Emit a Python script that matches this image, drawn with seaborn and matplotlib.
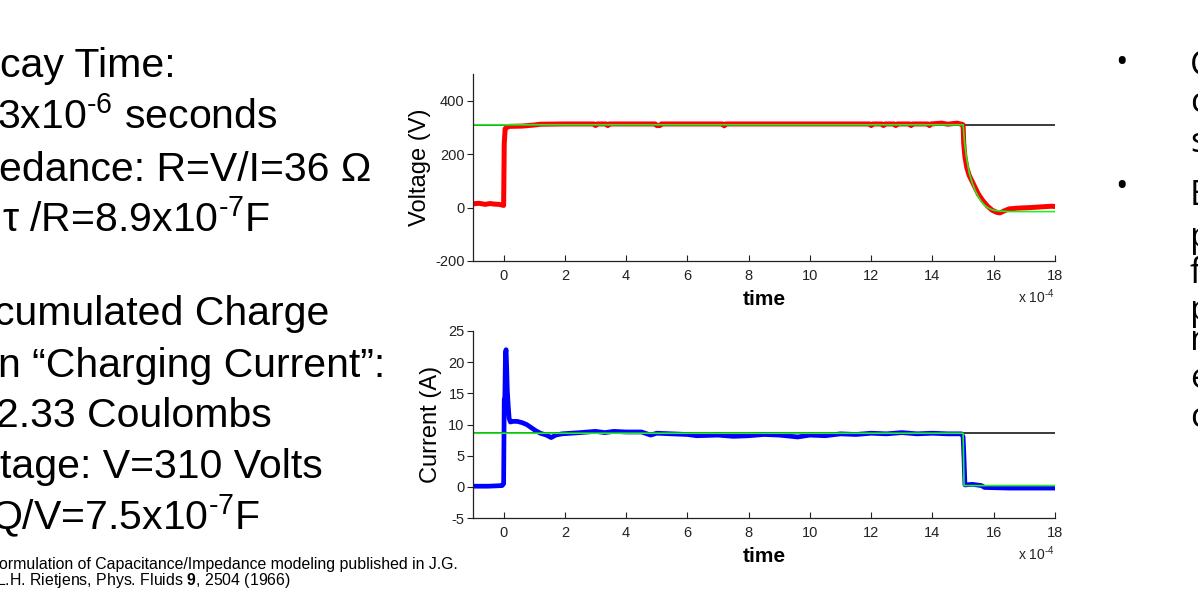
import matplotlib
matplotlib.use("Agg")
import matplotlib.pyplot as plt
import seaborn as sns
import pandas as pd

# time axis is in units of 1e-4 s
t_volt = [-1.0, -0.8, -0.6, -0.45, -0.3, -0.15, 0.0, 0.02, 0.05, 0.1, 0.2, 0.6, 1.0, 1.2,
          2.0, 2.95, 3.0, 3.05, 3.35, 3.4, 3.45, 4.95, 5.0, 5.1, 5.15, 7.15, 7.2, 7.25, 10.0,
          11.95, 12.0, 12.05, 12.35, 12.4, 12.45, 12.75, 12.8, 12.85, 13.25, 13.3, 13.35,
          13.85, 13.9, 13.95, 14.3, 14.5, 14.8, 14.95,
          15.0, 15.02, 15.06, 15.12, 15.2, 15.35, 15.5, 15.65, 15.8, 15.95, 16.1, 16.2,
          16.35, 16.5, 16.8, 17.2, 17.6, 17.9, 18.0]
volt = [14, 16, 12, 15, 13, 12, 8, 240, 295, 300, 304, 305, 309, 312,
        313, 313, 307, 313, 313, 307, 313, 313, 307, 307, 313, 313, 306, 313, 313,
        313, 307, 313, 313, 307, 313, 313, 307, 313, 313, 307, 313,
        313, 307, 313, 316, 312, 316, 312,
        310, 240, 190, 150, 120, 85, 50, 25, 5, -10, -18, -20,
        -12, -5, -2, 0, 3, 5, 4]

t_vfit = [-1.0, 15.0, 15.05, 15.1, 15.2, 15.3, 15.4, 15.5, 15.6, 15.7, 15.8, 15.9, 16.0, 16.2, 16.5, 18.0]
vfit = [310, 310, 240, 195, 130, 92, 62, 40, 22, 9, 0, -6, -10, -13, -15, -15]

t_curr = [-1.0, -0.5, -0.05, 0.0, 0.02, 0.04, 0.06, 0.08, 0.1, 0.12, 0.15, 0.18, 0.22,
          0.3, 0.45, 0.6, 0.75, 0.9, 1.05, 1.2, 1.4, 1.55, 1.7, 1.9, 2.2, 2.5,
          3.0, 3.3, 3.6, 4.0, 4.5, 4.8, 5.0, 5.5, 6.0, 6.3, 7.0, 7.5, 8.0, 8.5,
          9.0, 9.6, 10.0, 10.5, 11.0, 11.5, 12.0, 12.5, 13.0, 13.5, 14.0, 14.5, 14.95,
          15.0, 15.03, 15.06, 15.3, 15.6, 15.7, 16.5, 17.0, 18.0]
curr = [0.1, 0.1, 0.2, 0.5, 14.0, 14.5, 21.5, 22.0, 19.0, 15.5, 13.0, 11.0, 10.4,
        10.5, 10.5, 10.3, 10.0, 9.5, 9.0, 8.6, 8.3, 7.9, 8.3, 8.5, 8.6, 8.7,
        8.9, 8.7, 8.9, 8.8, 8.8, 8.3, 8.6, 8.5, 8.4, 8.2, 8.3, 8.1, 8.2, 8.4,
        8.3, 8.0, 8.3, 8.2, 8.5, 8.4, 8.6, 8.5, 8.7, 8.5, 8.6, 8.5, 8.5,
        8.0, 4.5, 0.3, 0.4, 0.2, -0.1, -0.2, -0.2, -0.2]

t_cfit = [-1.0, 15.0, 15.03, 18.0]
cfit = [8.6, 8.6, 0.2, 0.2]

t_ref = [-1.0, 18.0]
v_ref = [310, 310]
i_ref = [8.6, 8.6]

HY = "\u2010"  # short hyphen for the exponents
left_lines = ["cay Time:", "3x10$^{" + HY + "6}$ seconds", "edance: R=V/I=36 \u03a9",
              "\u03c4 /R=8.9x10$^{" + HY + "7}$F",
              "cumulated Charge", "n \u201cCharging Current\u201d:", "2.33 Coulombs",
              "tage: V=310 Volts", "Q/V=7.5x10$^{" + HY + "7}$F"]
left_x_px = [0, -3, -1, 2, -6, -2, -4, 0, -10]
left_base_px = [77, 129, 181, 232, 325, 377, 427, 478, 530]

foot_lines = ["ormulation of Capacitance/Impedance modeling published in J.G.",
              r"L.H. Rietjens, Phys. Fluids $\mathbf{9}$, 2504 (1966)"]
foot_x_px = [-1, -4]
foot_base_px = [569, 585]

right_letters = ["C", "c", "s", "B", "p", "f", "p", "r", "e", "c"]
right_base_px = [75, 112, 152, 205, 247, 283, 320, 350, 388, 427]
bullet_y_px = [63, 188]

sns.set_style("ticks")
plt.rcParams['font.family'] = ['Liberation Sans', 'DejaVu Sans']
plt.rcParams['mathtext.fontset'] = 'custom'
plt.rcParams['mathtext.rm'] = 'Liberation Sans'
plt.rcParams['mathtext.it'] = 'Liberation Sans:italic'
plt.rcParams['mathtext.bf'] = 'Liberation Sans:bold'
plt.rcParams['axes.unicode_minus'] = False

W, H = 1198, 602
fig = plt.figure(figsize=(W / 100, H / 100), dpi=100)
fig.patch.set_facecolor('white')


def box(l, t, r, b):
    return [l / W, 1 - b / H, (r - l) / W, (b - t) / H]


ax1 = fig.add_axes(box(473, 74, 1055, 261))
ax2 = fig.add_axes(box(473, 331, 1055, 518))

# voltage
sns.lineplot(x=t_ref, y=v_ref, ax=ax1, color='#3a3a3a', linewidth=1.4)
sns.lineplot(data=pd.DataFrame({'t': t_volt, 'V': volt}), x='t', y='V', ax=ax1,
             color='#ff0000', linewidth=3.6, estimator=None, sort=False)
sns.lineplot(x=t_vfit, y=vfit, ax=ax1, color='#22ee22', linewidth=1.2, estimator=None, sort=False)

# current
sns.lineplot(x=t_ref, y=i_ref, ax=ax2, color='#3a3a3a', linewidth=1.4)
sns.lineplot(data=pd.DataFrame({'t': t_curr, 'I': curr}), x='t', y='I', ax=ax2,
             color='#0000ff', linewidth=3.4, estimator=None, sort=False)
sns.lineplot(x=t_cfit, y=cfit, ax=ax2, color='#22ee22', linewidth=1.2, estimator=None, sort=False)

ax1.set_ylim(-200, 500)
ax1.set_yticks([-200, 0, 200, 400])
ax2.set_ylim(-5, 25)
ax2.set_yticks(list(range(-5, 26, 5)))

for ax, ylab, ylx in [(ax1, "Voltage (V)", -0.072), (ax2, "Current (A)", -0.054)]:
    ax.set_xlim(-1, 18)
    ax.set_xticks(list(range(0, 19, 2)))
    sns.despine(ax=ax)
    for sp in ['left', 'bottom']:
        ax.spines[sp].set_color('#222222')
        ax.spines[sp].set_linewidth(0.9)
    ax.tick_params(axis='x', direction='in', length=4, width=0.8, pad=6, labelsize=10.5, colors='#222222')
    ax.tick_params(axis='y', direction='out', length=4, width=0.8, pad=2, labelsize=10.5, colors='#222222')
    ax.set_ylabel(ylab, fontsize=17, color='black')
    ax.yaxis.set_label_coords(ylx, 0.5)
    ax.set_xlabel("time", fontsize=15, fontweight='bold', color='black')
    ax.xaxis.set_label_coords(0.5, -0.155)
    ax.text(1.0, -0.225, "x 10$^{" + HY + "4}$", transform=ax.transAxes, ha='right', va='baseline',
            fontsize=10, color='#222222')

# slide text around the charts
for s, x, b in zip(left_lines, left_x_px, left_base_px):
    fig.text(x / W, 1 - b / H, s, ha='left', va='baseline', fontsize=29.5, color='black')

for s, x, b in zip(foot_lines, foot_x_px, foot_base_px):
    fig.text(x / W, 1 - b / H, s, ha='left', va='baseline', fontsize=11.4, color='black')

for y in bullet_y_px:
    fig.text(1122 / W, 1 - y / H, "\u2022", ha='center', va='center', fontsize=24,
             family='Open Sans', color='black')

for s, b in zip(right_letters, right_base_px):
    fig.text(1190 / W, 1 - b / H, s, ha='left', va='baseline', fontsize=25,
             family='Open Sans', color='black')

fig.savefig("out.png", dpi=100, facecolor='white')
